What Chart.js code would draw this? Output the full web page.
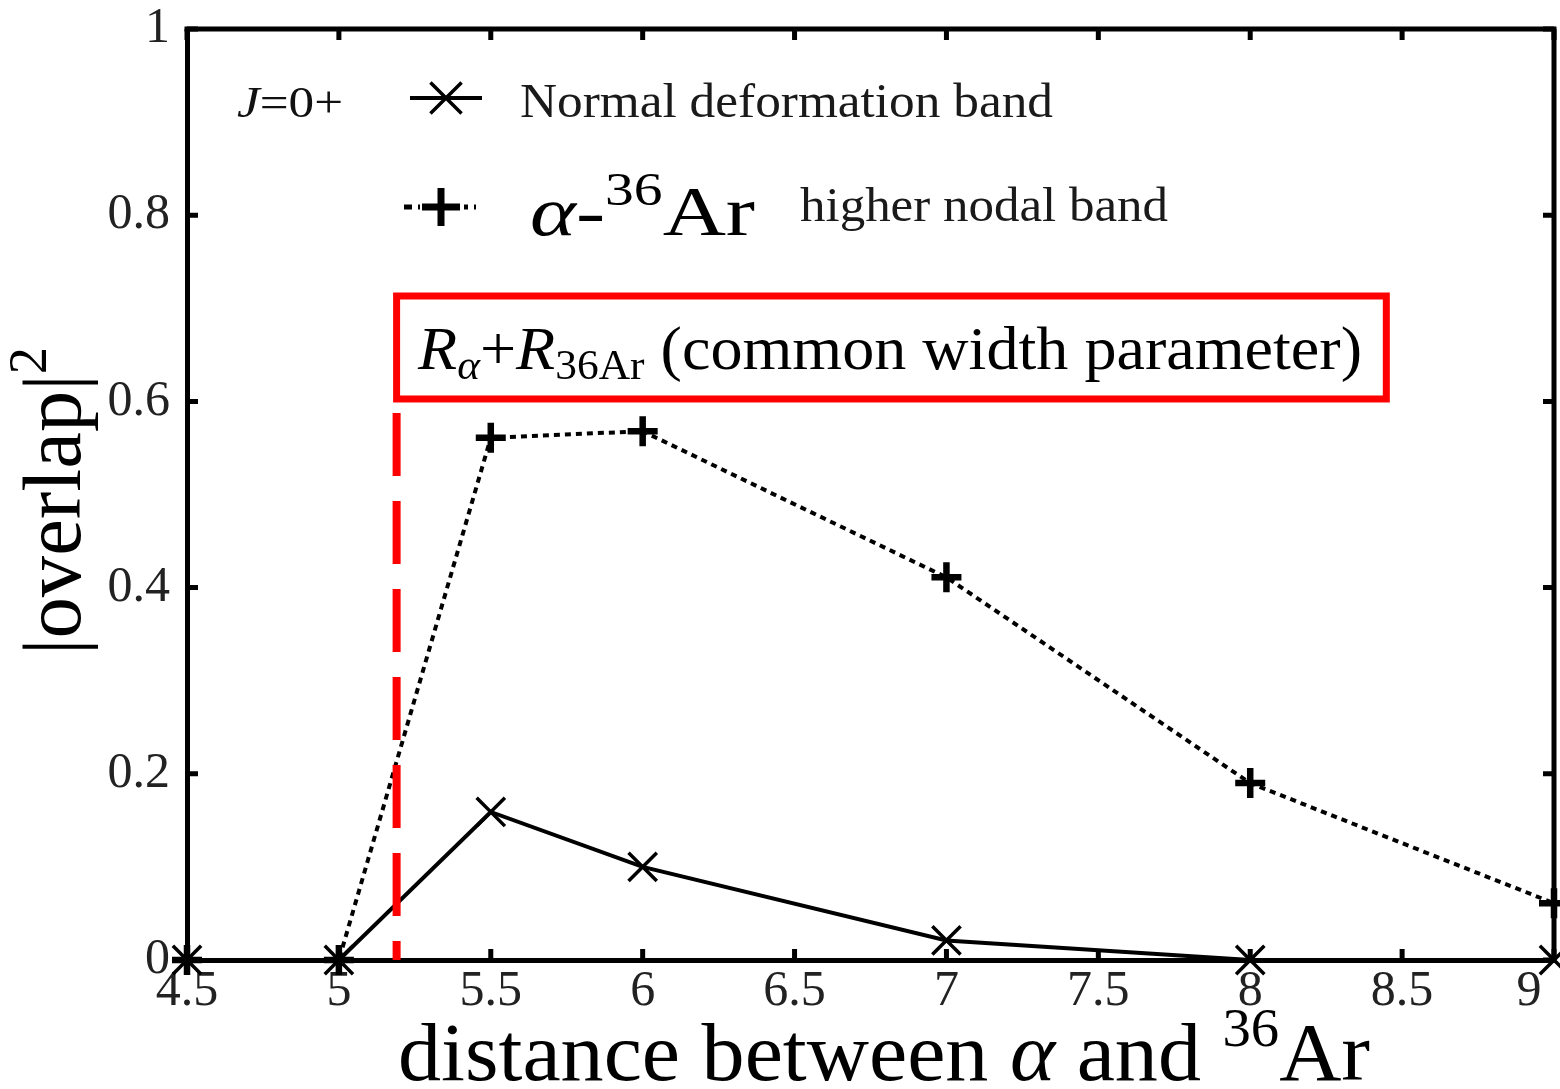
<!DOCTYPE html>
<html><head><meta charset="utf-8">
<script src="https://cdn.jsdelivr.net/npm/chart.js@4.4.1/dist/chart.umd.min.js"></script>
<style>html,body{margin:0;padding:0;background:#fff;} #wrap{width:1560px;height:1089px;position:relative;overflow:hidden;}</style>
</head><body><div id="wrap"><canvas id="c" width="1560" height="1089"></canvas></div>
<script>
// ---- data ----
const distances = [4.5, 5, 5.5, 6, 7, 8, 9];
const normalBand = [0, 0, 0.159, 0.100, 0.021, 0, 0];
const higherNodalBand = [0, 0, 0.561, 0.568, 0.411, 0.190, 0.061];
const xRange = [4.5, 9];
const xStep = 0.5;
const yRange = [0, 1];
const yStep = 0.2;
const widthParameterDistance = 5.19;          // red dashed marker
const annotationBox = {x0: 5.19, x1: 8.448, y0: 0.6026, y1: 0.7132};
const seriesLabels = ['Normal deformation band', 'higher nodal band'];

const SERIF = '"Liberation Serif", "Times New Roman", serif';

function toPoints(xs, ys){ return xs.map((x,i)=>({x:x, y:ys[i]})); }
function fmt(v){ return String(Math.round(v*100)/100); }
function fmtX(v){ const s = fmt(v); return v >= xRange[1] ? s + '\u2003' : s; }

function fontStr(s){ return (s.italic?'italic ':'') + s.size + 'px ' + SERIF; }
function drawRich(ctx, segs, x, baseline, targetWidth, color){
  let w = 0;
  for (const s of segs){ ctx.font = fontStr(s); s.w = ctx.measureText(s.t).width; w += s.w; }
  const sx = targetWidth ? targetWidth / w : 1;
  ctx.save();
  ctx.translate(x, baseline);
  ctx.scale(sx, 1);
  ctx.fillStyle = color || '#000';
  ctx.textAlign = 'left'; ctx.textBaseline = 'alphabetic';
  let cx = 0;
  for (const s of segs){ ctx.font = fontStr(s); ctx.fillText(s.t, cx, s.dy || 0); cx += s.w; }
  ctx.restore();
}
function drawMarker(ctx, style, x, y, r, lw){
  ctx.save(); ctx.strokeStyle='#000'; ctx.lineWidth=lw; ctx.setLineDash([]);
  ctx.beginPath();
  if (style==='crossRot'){ const d=r*Math.SQRT1_2; ctx.moveTo(x-d,y-d); ctx.lineTo(x+d,y+d); ctx.moveTo(x-d,y+d); ctx.lineTo(x+d,y-d); }
  else { ctx.moveTo(x-r,y); ctx.lineTo(x+r,y); ctx.moveTo(x,y-r); ctx.lineTo(x,y+r); }
  ctx.stroke(); ctx.restore();
}

const framePlugin = {
  id: 'frame',
  beforeDatasetsDraw(chart){
    const {ctx, chartArea:a, scales:{x, y}} = chart;
    ctx.save();
    ctx.strokeStyle = '#000'; ctx.lineWidth = 5; ctx.lineCap='square';
    ctx.beginPath();
    ctx.moveTo(a.left, a.top); ctx.lineTo(a.right, a.top);
    ctx.moveTo(a.right, a.top); ctx.lineTo(a.right, a.bottom);
    ctx.stroke();
    ctx.lineCap='butt';
    // inward ticks
    const L = 11;
    ctx.beginPath();
    x.ticks.forEach(t=>{ const px = x.getPixelForValue(t.value);
      ctx.moveTo(px, a.bottom); ctx.lineTo(px, a.bottom - L);
      ctx.moveTo(px, a.top); ctx.lineTo(px, a.top + L); });
    y.ticks.forEach(t=>{ const py = y.getPixelForValue(t.value);
      ctx.moveTo(a.left, py); ctx.lineTo(a.left + L, py);
      ctx.moveTo(a.right, py); ctx.lineTo(a.right - L, py); });
    ctx.stroke();
    ctx.restore();
  },
  afterDatasetsDraw(chart){
    const {ctx, chartArea:a, scales:{x, y}} = chart;
    // red dashed line
    const rx = x.getPixelForValue(widthParameterDistance);
    ctx.save();
    ctx.strokeStyle = '#ff0000'; ctx.lineWidth = 8; ctx.setLineDash([63, 25]);
    ctx.beginPath();
    ctx.moveTo(rx, y.getPixelForValue(0.5875)); ctx.lineTo(rx, a.bottom);
    ctx.stroke();
    ctx.setLineDash([]);
    // red box
    const bx0 = x.getPixelForValue(annotationBox.x0), bx1 = x.getPixelForValue(annotationBox.x1);
    const by0 = y.getPixelForValue(annotationBox.y1), by1 = y.getPixelForValue(annotationBox.y0);
    ctx.fillStyle = '#fff';
    ctx.fillRect(bx0, by0, bx1-bx0, by1-by0);
    ctx.lineWidth = 7;
    ctx.strokeRect(bx0, by0, bx1-bx0, by1-by0);
    ctx.restore();
    drawRich(ctx, [
      {t:'R', size:62, italic:true},
      {t:'α', size:42, italic:true, dy:10},
      {t:'+', size:62},
      {t:'R', size:62, italic:true},
      {t:'36Ar', size:42, dy:10},
      {t:' (common width parameter)', size:62}
    ], 418, 369, 944, '#000');

    // legend
    drawRich(ctx, [{t:'J', size:44, italic:true},{t:'=0+', size:44}], 237, 117, 106, '#111');
    // row 1
    ctx.save(); ctx.strokeStyle='#000'; ctx.lineWidth=4;
    ctx.beginPath(); ctx.moveTo(410, 98); ctx.lineTo(482, 98); ctx.stroke(); ctx.restore();
    drawMarker(ctx, 'crossRot', 446, 98, 22, 3.5);
    drawRich(ctx, [{t:seriesLabels[0], size:48}], 520, 117, 533, '#1a1a1a');
    // row 2
    ctx.save(); ctx.strokeStyle='#000'; ctx.lineWidth=5; ctx.setLineDash([8,6]);
    ctx.beginPath(); ctx.moveTo(404, 207); ctx.lineTo(476, 207); ctx.stroke(); ctx.restore();
    ctx.save(); ctx.fillStyle='#fff'; ctx.fillRect(420,195,44,24); ctx.restore();
    drawMarker(ctx, 'cross', 441, 207, 19, 7);
    drawRich(ctx, [{t:'α', size:70, italic:true},{t:'-', size:70},{t:'36', size:46, dy:-30},{t:'Ar', size:70}], 530, 235, 225, '#000');
    drawRich(ctx, [{t:seriesLabels[1], size:48}], 800, 221, 368, '#1a1a1a');

    // axis titles
    drawRich(ctx, [
      {t:'distance between ', size:82},
      {t:'α', size:82, italic:true},
      {t:' and ', size:82},
      {t:'36', size:54, dy:-34},
      {t:'Ar', size:82}
    ], 398, 1080, 972, '#000');
    ctx.save();
    ctx.translate(80, 655); ctx.rotate(-Math.PI/2);
    drawRich(ctx, [{t:'|overlap|', size:82},{t:'2', size:54, dy:-34}], 0, 0, 308, '#000');
    ctx.restore();
  }
};

const tickFont = {family: SERIF, size: 50};
new Chart(document.getElementById('c'), {
  type: 'scatter',
  data: {
    datasets: [
      { label: seriesLabels[0], data: toPoints(distances, normalBand), showLine: true,
        borderColor:'#000', borderWidth:4, pointStyle:'crossRot', pointRadius:20,
        pointBorderWidth:3.5, pointBorderColor:'#000', pointBackgroundColor:'#000', clip:false, tension:0 },
      { label: seriesLabels[1], data: toPoints(distances, higherNodalBand), showLine: true,
        borderColor:'#000', borderWidth:4, borderDash:[6,5], pointStyle:'cross', pointRadius:15,
        pointBorderWidth:6.5, pointBorderColor:'#000', pointBackgroundColor:'#000', clip:false, tension:0 }
    ]
  },
  options: {
    responsive:false, animation:false, devicePixelRatio:1,
    layout:{autoPadding:false, padding:{left:0, right:6, top:29, bottom:0}},
    plugins:{legend:{display:false}, tooltip:{enabled:false}},
    scales:{
      x:{ type:'linear', min:xRange[0], max:xRange[1],
          ticks:{stepSize:xStep, font:tickFont, color:'#222', padding:2, maxRotation:0, autoSkip:false, callback:fmtX},
          grid:{display:false, drawTicks:false}, border:{display:true, color:'#000', width:5},
          afterFit(s){ s.height = 129; s.paddingLeft = 0; s.paddingRight = 0; } },
      y:{ type:'linear', min:yRange[0], max:yRange[1],
          ticks:{stepSize:yStep, font:tickFont, color:'#222', padding:17, callback:fmt},
          grid:{display:false, drawTicks:false}, border:{display:true, color:'#000', width:5},
          afterFit(s){ s.width = 187; s.paddingTop = 0; s.paddingBottom = 0; } }
    }
  },
  plugins:[framePlugin]
});
</script></body></html>
